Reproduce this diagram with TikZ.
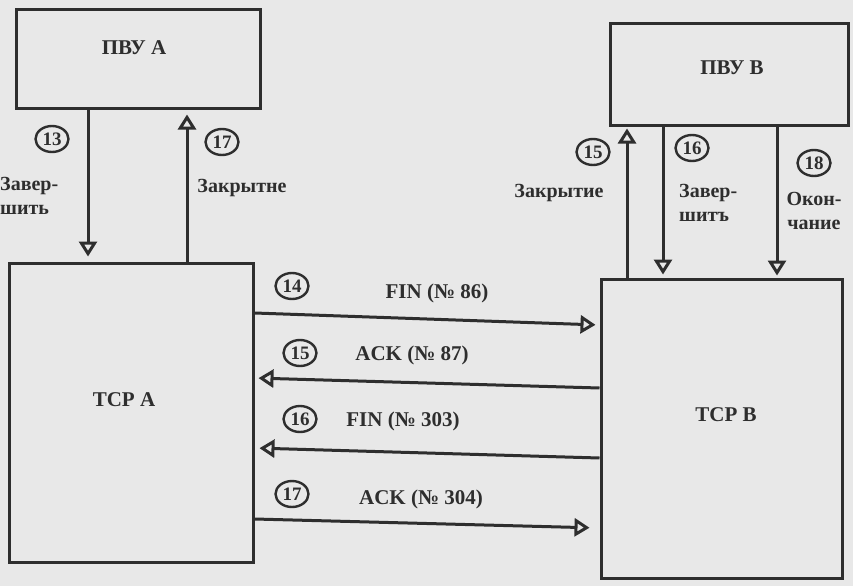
\documentclass[tikz,border=0pt]{standalone}
\usepackage{fontspec}
\setmainfont{Liberation Serif}
\usetikzlibrary{arrows.meta,shapes.geometric}
\definecolor{paper}{gray}{0.91}
\definecolor{ink}{gray}{0.18}
\begin{document}
\begin{tikzpicture}[x=1pt,y=-1pt,
  box/.style={draw=ink, line width=3pt, inner sep=0pt},
  lbl/.style={font=\fontsize{21}{22}\selectfont\bfseries, text=ink, inner sep=0pt},
  side/.style={font=\fontsize{20}{24}\selectfont\bfseries, text=ink, inner sep=0pt},
  num/.style={ellipse, draw=ink, line width=2.4pt, minimum width=33pt, minimum height=26pt, inner sep=0pt, font=\fontsize{19}{19}\selectfont\bfseries, text=ink},
  arr/.style={draw=ink, line width=3pt, -{Triangle[open, length=15pt, width=18pt]}},
]
\fill[paper] (0,0) rectangle (853,586);
\useasboundingbox (0,0) rectangle (853,586);

% boxes
\node[box, minimum width=244pt, minimum height=98pt] (pvuA) at (138,59) {};
\node[lbl] (pvuAt) at (134,48) {ПВУ А};
\node[box, minimum width=238pt, minimum height=101pt] (pvuB) at (729,74.5) {};
\node[lbl] (pvuBt) at (732,68) {ПВУ В};
\node[box, minimum width=244pt, minimum height=299pt] (tcpA) at (131,412.5) {};
\node[lbl] (tcpAt) at (124,400) {TCP A};
\node[box, minimum width=241pt, minimum height=299pt] (tcpB) at (721.5,428.5) {};
\node[lbl] (tcpBt) at (726,415) {TCP B};

% vertical connectors, left
\draw[arr, shorten >=5pt] (pvuA.south -| 88,0) -- (tcpA.north -| 88,0);
\draw[arr, shorten >=5pt] (tcpA.north -| 187,0) -- (pvuA.south -| 187,0);
\node[num] (n13) at (52,139) {13};
\node[num] (n17a) at (222,142) {17};
\node[side, align=left, anchor=west] (zavA) at (0,196) {Завер-\\шить};
\node[side] (zakA) at (242,188) {Закрытне};

% vertical connectors, right
\draw[arr, shorten >=2pt] (tcpB.north -| 627,0) -- (pvuB.south -| 627,0);
\draw[arr, shorten >=3pt] (pvuB.south -| 663,0) -- (tcpB.north -| 663,0);
\draw[arr, shorten >=2pt] (pvuB.south -| 777,0) -- (tcpB.north -| 777,0);
\node[num] (n15a) at (593,152) {15};
\node[num] (n16a) at (692,148) {16};
\node[num] (n18) at (814,163) {18};
\node[side] (zakB) at (559,193) {Закрытие};
\node[side, align=left, anchor=west] (zavB) at (679,203) {Завер-\\шитъ};
\node[side, align=center] (okB) at (814,211) {Окон-\\чание};

% horizontal connectors
\draw[arr, shorten >=4pt] (tcpA.east |- 0,313) -- (tcpB.west |- 0,325);
\draw[arr, shorten >=4pt] (tcpB.west |- 0,388) -- (tcpA.east |- 0,378);
\draw[arr, shorten >=5pt] (tcpB.west |- 0,458) -- (tcpA.east |- 0,448);
\draw[arr, shorten >=10pt] (tcpA.east |- 0,519) -- (tcpB.west |- 0,528);

\node[num] (n14) at (292,286) {14};
\node[lbl] (fin86) at (437,293) {FIN (№ 86)};
\node[num] (n15b) at (300,353) {15};
\node[lbl] (ack87) at (412,355) {ACK (№ 87)};
\node[num] (n16b) at (300,419) {16};
\node[lbl] (fin303) at (403,421) {FIN (№ 303)};
\node[num] (n17b) at (292,494) {17};
\node[lbl] (ack304) at (421,499) {ACK (№ 304)};
\end{tikzpicture}
\end{document}
